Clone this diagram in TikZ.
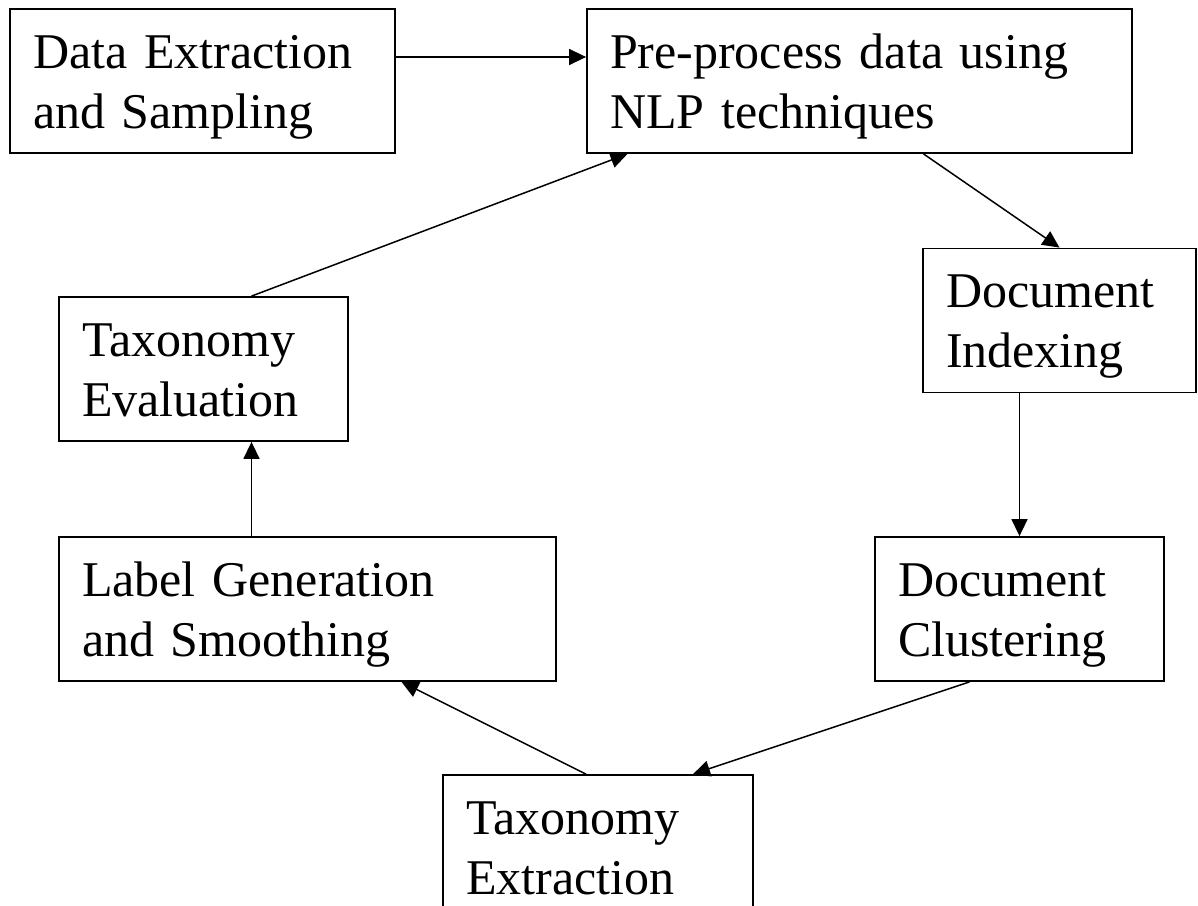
\documentclass[tikz,border=0pt]{standalone}
\usepackage{fontspec}
\setmainfont{Liberation Serif}
\usetikzlibrary{arrows.meta}

\begin{document}
\begin{tikzpicture}[x=0.5pt, y=-0.5pt,
        stage/.style={draw, rectangle, line width=0.9pt, align=left,
            inner xsep=11.5pt, inner ysep=0pt, minimum height=72pt,
            text height=29.5pt, text depth=42.5pt, font=\fontsize{25}{30}\selectfont},
        flow/.style={line width=0.75pt, -{Triangle[length=8.5pt,width=8pt]}}]
        \useasboundingbox (0,0) rectangle (1198,905);

        % process steps
        \node[stage, text width=169.5pt] (extract) at (202.5,81) {Data Extraction\\and Sampling};
        \node[stage, text width=249.5pt] (preproc) at (859.5,81) {Pre-process data using\\NLP techniques};
        \node[stage, text width=113.5pt] (index) at (1059.5,320.5) {Document\\Indexing};
        \node[stage, text width=121.5pt] (cluster) at (1019.5,609) {Document\\Clustering};
        \node[stage, text width=132pt] (taxext) at (598,847) {Taxonomy\\Extraction};
        \node[stage, text width=225.5pt] (labels) at (307.5,609) {Label Generation\\and Smoothing};
        \node[stage, text width=121.5pt] (taxeval) at (203.5,369) {Taxonomy\\Evaluation};

        % connectors
        \draw[flow] ([yshift=12pt]extract.east) -- ([yshift=12pt]extract.east -| preproc.west);
        \draw[flow] ([xshift=32pt]preproc.south) -- (index.north);
        \draw[flow] (cluster.north |- index.south) -- (cluster.north);
        \draw[flow] ([xshift=-25pt]cluster.south) -- ([xshift=47.5pt]taxext.north);
        \draw[flow] ([xshift=-6pt]taxext.north) -- ([xshift=47pt]labels.south);
        \draw[flow] ([xshift=24pt]taxeval.south |- labels.north) -- ([xshift=24pt]taxeval.south);
        \draw[flow] ([xshift=24pt]taxeval.north) -- ([xshift=-116pt]preproc.south);
\end{tikzpicture}
\end{document}
